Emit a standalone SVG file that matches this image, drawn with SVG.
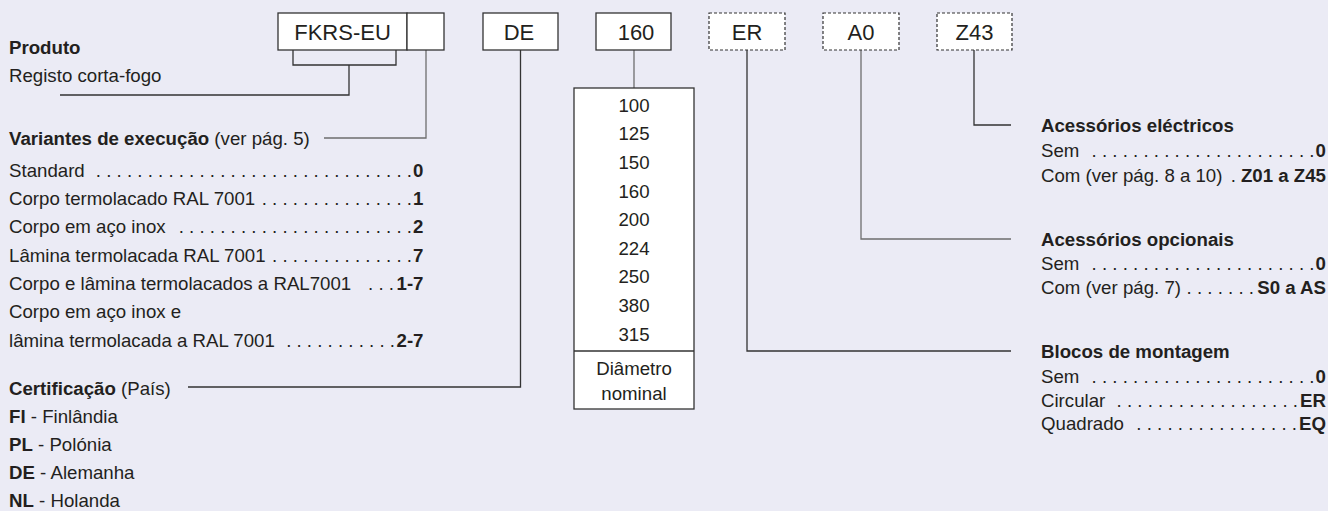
<svg xmlns="http://www.w3.org/2000/svg" width="1328" height="511" viewBox="0 0 1328 511">
<style>
text{font-family:"Liberation Sans",Arial,Helvetica,sans-serif;font-size:18.67px;fill:#231f20}
.b{font-weight:bold}
.e{text-anchor:end}
.m{text-anchor:middle}
.code{font-size:22px;text-anchor:middle}
.box{fill:#fff;stroke:#333;stroke-width:1.3}
.dash{fill:#fff;stroke:#333;stroke-width:1.2;stroke-dasharray:3 2}
.ln{fill:none;stroke:#333;stroke-width:1.3}
.lg{fill:none;stroke:#6e6e6e;stroke-width:1.3}
</style>
<rect width="1328" height="511" fill="#ebebf5"/>

<g id="connectors">
<polyline class="ln" points="293,50 293,65 396,65 396,50"/>
<polyline class="ln" points="349,65 349,95 60,95"/>
<polyline class="lg" points="426,50 426,138 324,138"/>
<polyline class="ln" points="520.5,50 520.5,387 188,387"/>
<line class="lg" x1="634" y1="50" x2="634" y2="88"/>
<polyline class="ln" points="747,50 747,351 1011,351"/>
<polyline class="lg" points="861,50 861,239 1011,239"/>
<polyline class="ln" points="974,50 974,125 1011,125"/>
</g>

<g id="box-fkrs">
<rect class="box" x="278" y="13" width="129" height="37"/>
<text class="code" x="342.5" y="39.5">FKRS-EU</text>
</g>
<g id="box-variante">
<rect class="box" x="407" y="13" width="37" height="37"/>
</g>
<g id="box-de">
<rect class="box" x="483" y="13" width="75" height="37"/>
<text class="code" x="519" y="39.5">DE</text>
</g>
<g id="box-160">
<rect class="box" x="596" y="13" width="75" height="37"/>
<text class="code" x="636" y="39.5">160</text>
</g>
<g id="box-er">
<rect class="dash" x="709" y="13" width="76" height="37"/>
<text class="code" x="747" y="39.5">ER</text>
</g>
<g id="box-a0">
<rect class="dash" x="823" y="13" width="76" height="37"/>
<text class="code" x="861" y="39.5">A0</text>
</g>
<g id="box-z43">
<rect class="dash" x="937" y="13" width="75" height="37"/>
<text class="code" x="974.5" y="39.5">Z43</text>
</g>

<g id="diametros">
<rect class="box" x="574" y="88" width="120" height="321"/>
<line class="ln" x1="574" y1="351" x2="694" y2="351"/>
<text class="m" x="634" y="111.7">100</text>
<text class="m" x="634" y="140.3">125</text>
<text class="m" x="634" y="168.9">150</text>
<text class="m" x="634" y="197.5">160</text>
<text class="m" x="634" y="226.1">200</text>
<text class="m" x="634" y="254.7">224</text>
<text class="m" x="634" y="283.3">250</text>
<text class="m" x="634" y="311.9">380</text>
<text class="m" x="634" y="340.5">315</text>
<text class="m" x="634" y="374.7">Diâmetro</text>
<text class="m" x="634" y="400">nominal</text>
</g>

<g id="produto">
<text class="b" x="9" y="53.5">Produto</text>
<text x="9" y="81.5">Registo corta-fogo</text>
</g>

<g id="variantes">
<text x="9" y="145"><tspan class="b">Variantes de execução</tspan> (ver pág. 5)</text>
<text x="9" y="176.7">Standard</text>
<text class="e" x="412" y="176.7">. . . . . . . . . . . . . . . . . . . . . . . . . . . . . . .</text>
<text class="e b" x="423.5" y="176.7">0</text>
<text x="9" y="205">Corpo termolacado RAL 7001</text>
<text class="e" x="412" y="205">. . . . . . . . . . . . . . .</text>
<text class="e b" x="423.5" y="205">1</text>
<text x="9" y="233.3">Corpo em aço inox</text>
<text class="e" x="412" y="233.3">. . . . . . . . . . . . . . . . . . . . . . .</text>
<text class="e b" x="423.5" y="233.3">2</text>
<text x="9" y="261.6">Lâmina termolacada RAL 7001</text>
<text class="e" x="412" y="261.6">. . . . . . . . . . . . . .</text>
<text class="e b" x="423.5" y="261.6">7</text>
<text x="9" y="290">Corpo e lâmina termolacados a RAL7001</text>
<text class="e" x="394" y="290">. . .</text>
<text class="e b" x="423.5" y="290">1-7</text>
<text x="9" y="318.3">Corpo em aço inox e</text>
<text x="9" y="346.6">lâmina termolacada a RAL 7001</text>
<text class="e" x="395" y="346.6">. . . . . . . . . . .</text>
<text class="e b" x="423.5" y="346.6">2-7</text>
</g>

<g id="certificacao">
<text x="9" y="394.5"><tspan class="b">Certificação</tspan> (País)</text>
<text x="9" y="422.5"><tspan class="b">FI</tspan> - Finlândia</text>
<text x="9" y="450.5"><tspan class="b">PL</tspan> - Polónia</text>
<text x="9" y="478.5"><tspan class="b">DE</tspan> - Alemanha</text>
<text x="9" y="506.5"><tspan class="b">NL</tspan> - Holanda</text>
</g>

<g id="electricos">
<text class="b" x="1041" y="131.7">Acessórios eléctricos</text>
<text x="1041" y="156.7">Sem</text>
<text class="e" x="1314.5" y="156.7">. . . . . . . . . . . . . . . . . . . . . .</text>
<text class="e b" x="1326" y="156.7">0</text>
<text x="1041" y="181.7">Com (ver pág. 8 a 10)</text>
<text class="e" x="1236" y="181.7">.</text>
<text class="e b" x="1326" y="181.7">Z01 a Z45</text>
</g>

<g id="opcionais">
<text class="b" x="1041" y="245.7">Acessórios opcionais</text>
<text x="1041" y="269.7">Sem</text>
<text class="e" x="1314.5" y="269.7">. . . . . . . . . . . . . . . . . . . . . .</text>
<text class="e b" x="1326" y="269.7">0</text>
<text x="1041" y="293.7">Com (ver pág. 7)</text>
<text class="e" x="1254" y="293.7">. . . . . . .</text>
<text class="e b" x="1326" y="293.7">S0 a AS</text>
</g>

<g id="blocos">
<text class="b" x="1041" y="358.4">Blocos de montagem</text>
<text x="1041" y="383">Sem</text>
<text class="e" x="1314.5" y="383">. . . . . . . . . . . . . . . . . . . . . .</text>
<text class="e b" x="1326" y="383">0</text>
<text x="1041" y="406.7">Circular</text>
<text class="e" x="1298" y="406.7">. . . . . . . . . . . . . . . . . .</text>
<text class="e b" x="1326" y="406.7">ER</text>
<text x="1041" y="430">Quadrado</text>
<text class="e" x="1297" y="430">. . . . . . . . . . . . . . . .</text>
<text class="e b" x="1326" y="430">EQ</text>
</g>
</svg>
